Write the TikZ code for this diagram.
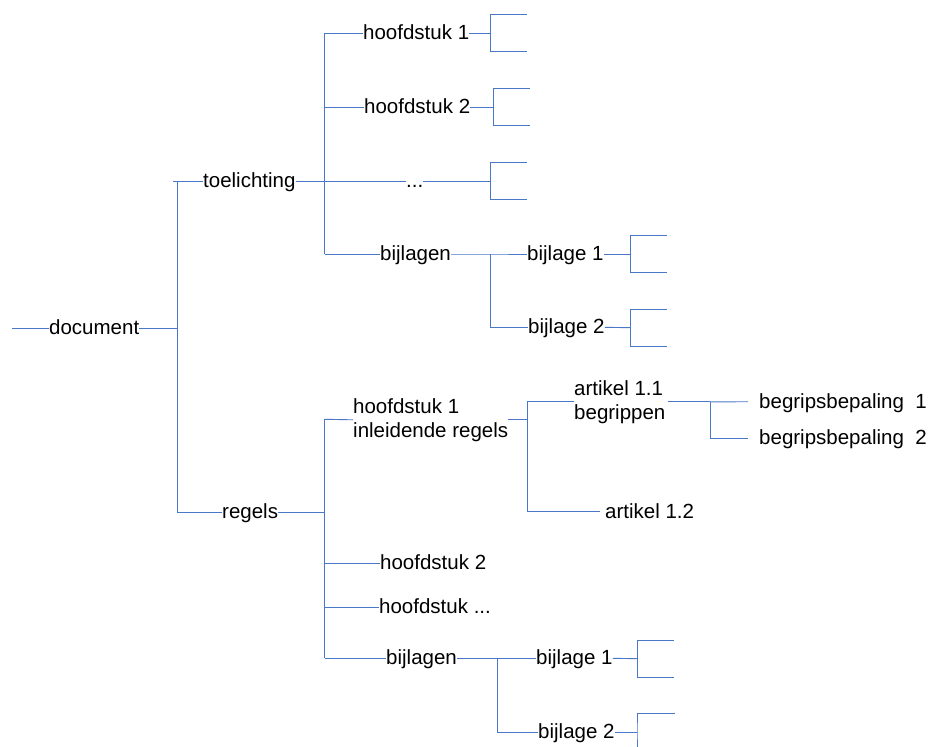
\documentclass[tikz,border=0pt]{standalone}
\usepackage{fontspec}
\setmainfont{Liberation Sans}
\definecolor{ln}{HTML}{4A78C8}
\begin{document}
\begin{tikzpicture}[x=1pt,y=-1pt,
  lbl/.style={font=\fontsize{20.5}{24}\selectfont, inner sep=0pt, text height=13pt, text depth=0pt, anchor=west},
  lbltwo/.style={font=\fontsize{20.5}{24}\selectfont, inner sep=0pt, align=left, anchor=west},
  con/.style={draw=ln, line width=0.9pt},
  brk/.pic={\draw[con] (37,-18.4) -| (0,18.4) -- (37,18.4);}]
\useasboundingbox (0,0) rectangle (930,747);

% ---- nodes ----
\node[lbl] (doc) at (49,328) {document};
\node[lbl] (toel) at (203,181) {toelichting};
\node[lbl] (h1) at (363,33.3) {hoofdstuk 1};
\node[lbl] (h2) at (364,107.3) {hoofdstuk 2};
\node[lbl] (dots) at (406,181) {...};
\node[lbl] (blT) at (380,254) {bijlagen};
\node[lbl] (b1T) at (527,254) {bijlage 1};
\node[lbl] (b2T) at (528,327.3) {bijlage 2};

\node[lbl] (regels) at (222,512) {regels};
\node[lbltwo] (rh1) at (353,419.8) {hoofdstuk 1\\inleidende regels};
\node[lbltwo] (a11) at (574,401.9) {artikel 1.1\\begrippen};
\node[lbl] (a12) at (605,511.7) {artikel 1.2};
\node[lbl] (bp1) at (759,401.7) {begripsbepaling\ \ 1};
\node[lbl] (bp2) at (759,438.3) {begripsbepaling\ \ 2};
\node[lbl] (rh2) at (380,563.3) {hoofdstuk 2};
\node[lbl] (rhd) at (379,607.3) {hoofdstuk ...};
\node[lbl] (rbl) at (386,658.3) {bijlagen};
\node[lbl] (rb1) at (536,658.3) {bijlage 1};
\node[lbl] (rb2) at (538,732.3) {bijlage 2};

% ---- coordinates ----
\coordinate (docL) at (12,328);
\coordinate (A1) at (177,181);
\coordinate (A0) at (173,181);
\coordinate (A2) at (177,512);
\coordinate (B1) at (324.5,33.3);
\coordinate (B2) at (324.5,107.3);
\coordinate (B4) at (324.5,254);
\coordinate (C1) at (490,254);
\coordinate (C2) at (490,327.3);
\coordinate (k1) at (490,33.3);
\coordinate (k2) at (493,107.3);
\coordinate (k3) at (490,181);
\coordinate (k4) at (630,254);
\coordinate (k5) at (630,327.7);
\coordinate (D1) at (324.5,419.3);
\coordinate (D2) at (324.5,512);
\coordinate (D3) at (324.5,563.3);
\coordinate (D4) at (324.5,607.3);
\coordinate (D5) at (324.5,658.3);
\coordinate (E0) at (527,419.8);
\coordinate (E1) at (527,401.9);
\coordinate (E2) at (527,511.7);
\coordinate (F1) at (710,401.9);
\coordinate (F2) at (710,438.3);
\coordinate (G1) at (497.7,658.3);
\coordinate (G2) at (497.7,732.3);
\coordinate (k6) at (637,658.7);
\coordinate (k7) at (637,732.3);

% ---- connectors: document ----
\draw[con] (docL) -- (doc.west);
\draw[con] (doc.east) -- (doc.east -| A1);
\draw[con] (A1) -- (A2);
\draw[con] (A0) -- (toel.west);
\draw[con] (A2) -- (regels.west);

% ---- toelichting ----
\draw[con] (toel.east) -- (dots.west);
\draw[con] (B1) -- (B4);
\draw[con] (B1) -- (h1.west);
\draw[con] (B2) -- (h2.west);
\draw[con] (B4) -- (blT.west);
\draw[con] (h1.east) -- (k1);
\pic at (k1) {brk};
\draw[con] (h2.east) -- (k2);
\pic at (k2) {brk};
\draw[con] (dots.east) -- (k3);
\pic at (k3) {brk};
\draw[con] (blT.east) -- (C1) -- (b1T.west);
\draw[con] (C1) -- (C2) -- (b2T.west);
\draw[con] (b1T.east) -- (k4);
\pic at (k4) {brk};
\draw[con] (b2T.east) -- (k5);
\pic at (k5) {brk};

% ---- regels ----
\draw[con] (regels.east) -- (D2);
\draw[con] (D1) -- (D5);
\draw[con] (D1) -- (rh1.west);
\draw[con] (D3) -- (rh2.west);
\draw[con] (D4) -- (rhd.west);
\draw[con] (D5) -- (rbl.west);
\draw[con] (rh1.east) -- (E0);
\draw[con] (E1) -- (E2);
\draw[con] (E1) -- (a11.west);
\draw[con, shorten >=5pt] (E2) -- (a12.west);
\draw[con, shorten <=2pt] (a11.east) -- (F1);
\draw[con] (F1) -- (F2);
\draw[con, shorten >=11pt] (F1) -- (bp1.west);
\draw[con, shorten >=11pt] (F2) -- (bp2.west);
\draw[con] (rbl.east) -- (G1) -- (rb1.west);
\draw[con] (G1) -- (G2) -- (rb2.west);
\draw[con] (rb1.east) -- (k6);
\pic at (k6) {brk};
\draw[con] (rb2.east) -- (k7);
\draw[con] (675,713.9) -| (k7) -- (637,747);
\end{tikzpicture}
\end{document}
